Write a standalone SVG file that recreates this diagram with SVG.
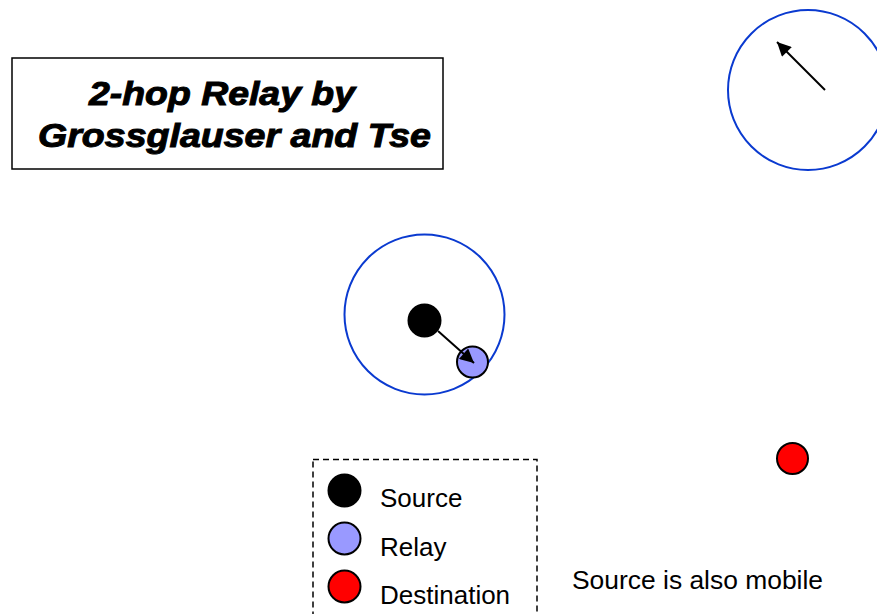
<svg xmlns="http://www.w3.org/2000/svg" width="877" height="614" viewBox="0 0 877 614">
<style>
.range{fill:none;stroke:#0a3ad0;stroke-width:2}
.node{stroke:#000;stroke-width:2}
.src{fill:#000}
.relay{fill:#9999ff}
.dst{fill:#ff0000}
.lbl{font-family:"Liberation Sans",Arial,sans-serif;font-size:26px;fill:#000}
.title{font-family:"Liberation Sans",Arial,sans-serif;font-size:33px;font-weight:bold;font-style:italic;fill:#000;stroke:#000;stroke-width:1}
.arrow{stroke:#000;stroke-width:2;fill:none}
</style>
<defs>
<marker id="ah2" viewBox="0 0 10 10" refX="10" refY="5" markerWidth="16" markerHeight="14" markerUnits="userSpaceOnUse" orient="auto">
<path d="M0,0 L10,5 L0,10 z" fill="#000"/>
</marker>
</defs>
<rect width="877" height="614" fill="#fff"/>
<g id="title">
<rect x="12" y="58" width="431" height="111" fill="#fff" stroke="#000" stroke-width="1.5"/>
<text class="title" x="89" y="104.5" textLength="266" lengthAdjust="spacingAndGlyphs">2-hop Relay by</text>
<text class="title" x="38" y="146.5" textLength="393" lengthAdjust="spacingAndGlyphs">Grossglauser and Tse</text>
</g>
<g id="range-mid"><circle class="range" cx="424.5" cy="314.5" r="80"/></g>
<g id="range-top"><circle class="range" cx="808" cy="90" r="80"/></g>
<g id="source"><circle class="node src" cx="424.5" cy="320.5" r="16"/></g>
<g id="relay"><circle class="node relay" cx="472.5" cy="362" r="15.5"/></g>
<g id="destination"><circle class="node dst" cx="792.5" cy="458.5" r="15.5"/></g>
<g id="connectors">
<line class="arrow" x1="438" y1="331" x2="474" y2="363" marker-end="url(#ah2)"/>
<line class="arrow" x1="825" y1="90" x2="777" y2="42" marker-end="url(#ah2)"/>
</g>
<g id="legend">
<rect x="313" y="459.5" width="224" height="170" fill="none" stroke="#000" stroke-width="1.5" stroke-dasharray="6,4"/>
<circle class="node src" cx="344.5" cy="490.5" r="16"/>
<circle class="node relay" cx="344.5" cy="538.5" r="16"/>
<circle class="node dst" cx="344.5" cy="586.5" r="16"/>
<text class="lbl" x="380" y="507">Source</text>
<text class="lbl" x="380" y="556">Relay</text>
<text class="lbl" x="380" y="604">Destination</text>
</g>
<g id="note"><text class="lbl" x="572" y="589" textLength="251" lengthAdjust="spacingAndGlyphs">Source is also mobile</text></g>
</svg>
